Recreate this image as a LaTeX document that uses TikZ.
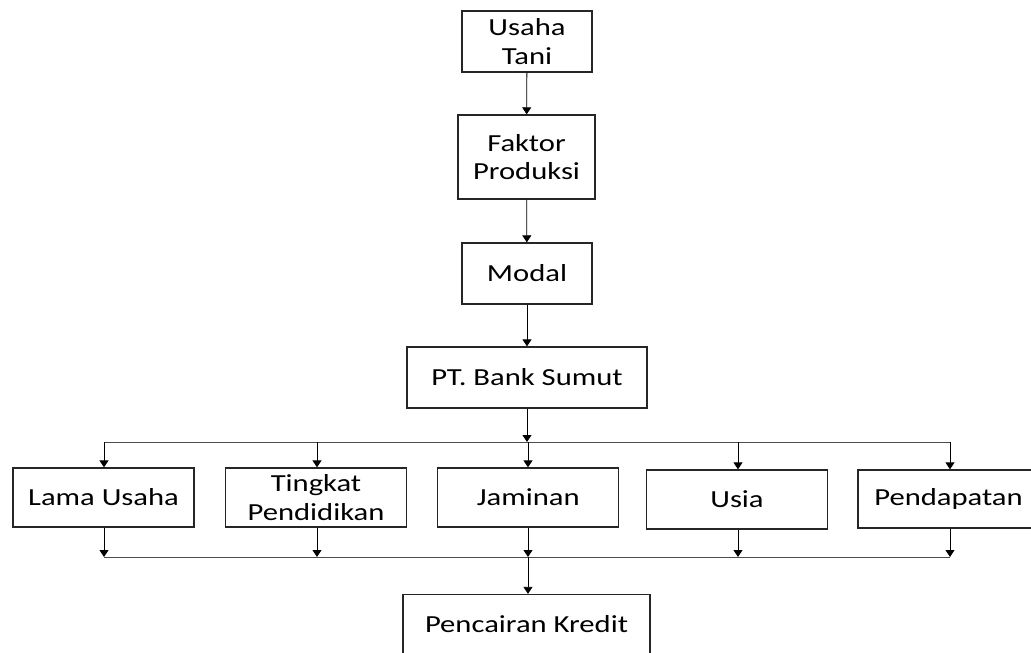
\documentclass[tikz,border=0pt]{standalone}
\usepackage{fontspec}
\setmainfont{Carlito}[FakeStretch=1.25]
\usetikzlibrary{arrows.meta}
\begin{document}
\begin{tikzpicture}[x=1pt,y=-1pt,
  box/.style={draw=black!85,line width=1.3pt,align=center,inner sep=0pt,
    font=\fontsize{24.5}{28.5}\selectfont,fill=white},
  conn/.style={draw=black!70,line width=0.8pt},
  arr/.style={conn,-{Triangle[length=7pt,width=9pt]},black}]
\useasboundingbox (0,0) rectangle (1031,653);
\fill[white] (0,0) rectangle (1031,653);
% vertical chain
\node[box,minimum width=130pt,minimum height=61pt] (ut) at (527,41.5) {Usaha\\Tani};
\node[box,minimum width=137pt,minimum height=84pt] (fp) at (526.5,157) {Faktor\\Produksi};
\node[box,minimum width=130pt,minimum height=61pt] (md) at (527,273.5) {Modal};
\node[box,minimum width=240pt,minimum height=61pt] (pt) at (527,377.5) {PT. Bank Sumut};
% factor row
\node[box,minimum width=181pt,minimum height=59pt] (lu) at (103.5,497.5) {Lama Usaha};
\node[box,minimum width=181pt,minimum height=59pt] (tp) at (316,497.5) {Tingkat\\Pendidikan};
\node[box,minimum width=181pt,minimum height=59pt] (jm) at (528.3,497.5) {Jaminan};
\node[box,minimum width=181pt,minimum height=59pt] (us) at (737,499.5) {Usia};
\node[box,minimum width=181pt,minimum height=58pt] (pd) at (948.5,499) {Pendapatan};
% result
\node[box,minimum width=247pt,minimum height=60pt] (pc) at (526.5,624.5) {Pencairan Kredit};
% split and merge lines
\coordinate (split) at (527,442);
\coordinate (sl) at (104,442);
\coordinate (sr) at (950,442);
\coordinate (merge) at (528,557);
\coordinate (ml) at (104,557);
\coordinate (mr) at (950,557);
\draw[conn] (sl) -- (sr);
\draw[conn] (ml) -- (mr);
% arrows
\draw[arr] (ut) -- (fp);
\draw[arr] (fp) -- (md);
\draw[arr] (md) -- (pt);
\draw[arr] (pt.south) -- (split);
\foreach \n/\xx in {lu/104,tp/317,jm/528,us/738,pd/950}{
  \draw[arr] (\xx,442) -- (\xx,0 |- \n.north);
  \draw[arr] (\xx,0 |- \n.south) -- (\xx,557);
}
\draw[arr] (merge) -- (merge |- pc.north);
\end{tikzpicture}
\end{document}
